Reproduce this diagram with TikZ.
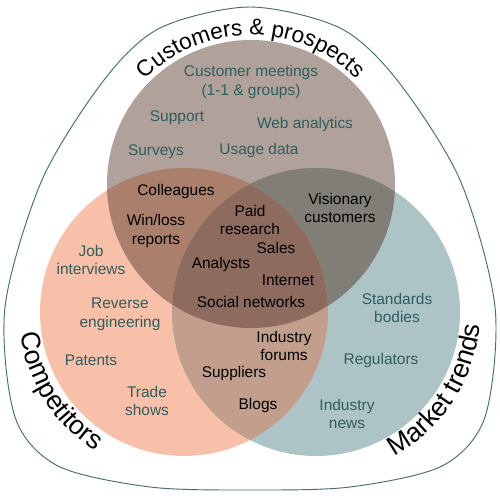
\documentclass[tikz,border=0pt]{standalone}
\usepackage{fontspec}
\setmainfont{Liberation Sans}
\usetikzlibrary{decorations.text}

\definecolor{topfill}{HTML}{B0A29A}
\definecolor{leftfill}{HTML}{F8C0A8}
\definecolor{rightfill}{HTML}{ADC4C7}
\definecolor{ltfill}{HTML}{AA7F6C}
\definecolor{rtfill}{HTML}{807E76}
\definecolor{lrfill}{HTML}{C19F8C}
\definecolor{midfill}{HTML}{8D6C5F}
\definecolor{itemtext}{HTML}{2F5E5E}
\definecolor{rimline}{HTML}{3F6F70}

\newcommand{\smalltitle}{\fontsize{17}{19}\selectfont}
\newcommand{\bigtitle}{\fontsize{20}{22}\selectfont}

\begin{document}
\begin{tikzpicture}[x=0.75pt,y=0.75pt,
		item/.style={font=\fontsize{11.6}{14.2}\selectfont,align=center,text=itemtext},
		shared/.style={item,text=black},
		rim/.style={draw=rimline,line width=0.7pt}]
	\useasboundingbox (0,0) rectangle (500,497);
	\coordinate (T) at (251,313);
	\coordinate (L) at (184,185);
	\coordinate (R) at (316,185);

	% outer rim
	\draw[rim] plot[smooth cycle] coordinates {(250,490) (340,469) (397,417) (460,317) (495,190)
		(485,80) (442,31) (350,10) (250,7) (150,10) (58,31) (15,80) (5,190) (42,317) (104,417) (160,469)};

	% circles and overlaps
	\fill[leftfill] (L) circle[radius=144];
	\fill[rightfill] (R) circle[radius=144];
	\fill[topfill] (T) circle[radius=144];
	\begin{scope}
		\clip (L) circle[radius=144];
		\fill[ltfill] (T) circle[radius=144];
	\end{scope}
	\begin{scope}
		\clip (R) circle[radius=144];
		\fill[rtfill] (T) circle[radius=144];
	\end{scope}
	\begin{scope}
		\clip (L) circle[radius=144];
		\fill[lrfill] (R) circle[radius=144];
	\end{scope}
	\begin{scope}
		\clip (L) circle[radius=144];
		\clip (R) circle[radius=144];
		\fill[midfill] (T) circle[radius=144];
	\end{scope}

	% titles
	\path[decorate,decoration={text along path,text align=center,
		text={|\smalltitle|Customers {\&} prospects}}]
		(T) ++(140:149) arc[start angle=140,end angle=40,radius=149];
	\path[decorate,decoration={text along path,text align=center,
		text={|\bigtitle|Competitors}}]
		(L) ++(180:165) arc[start angle=180,end angle=245,radius=165];
	\path[decorate,decoration={text along path,text align=center,
		text={|\bigtitle|Market trends}}]
		(R) ++(-62:164) arc[start angle=-62,end angle=-4,radius=164];

	% customers & prospects
	\node[item] (meetings) at (251,415) {Customer meetings\\(1-1 \& groups)};
	\node[item] (support) at (177,379) {Support};
	\node[item] (webstats) at (305,372) {Web analytics};
	\node[item] (surveys) at (156,345) {Surveys};
	\node[item] (usage) at (259,346) {Usage data};
	\node[shared] (colleagues) at (176,305) {Colleagues};
	\node[shared] (winloss) at (156,266) {Win/loss\\reports};
	\node[shared] (visionary) at (340,289) {Visionary\\customers};

	% all three
	\node[shared] (paid) at (250,277) {Paid\\research};
	\node[shared] (sales) at (276,249) {Sales};
	\node[shared] (analysts) at (221,232) {Analysts};
	\node[shared] (internet) at (288,217) {Internet};
	\node[shared] (social) at (251,195) {Social networks};

	% competitors
	\node[item] (interviews) at (91,237) {Job\\interviews};
	\node[item] (reverse) at (120,183) {Reverse\\engineering};
	\node[item] (patents) at (91,137) {Patents};
	\node[item] (trade) at (147,96) {Trade\\shows};
	\node[shared] (forums) at (284,151) {Industry\\forums};
	\node[shared] (suppliers) at (234,123) {Suppliers};
	\node[shared] (blogs) at (258,92) {Blogs};

	% market trends
	\node[item] (standards) at (397,189) {Standards\\bodies};
	\node[item] (regulators) at (381,137) {Regulators};
	\node[item] (news) at (347,83) {Industry\\news};
\end{tikzpicture}
\end{document}
